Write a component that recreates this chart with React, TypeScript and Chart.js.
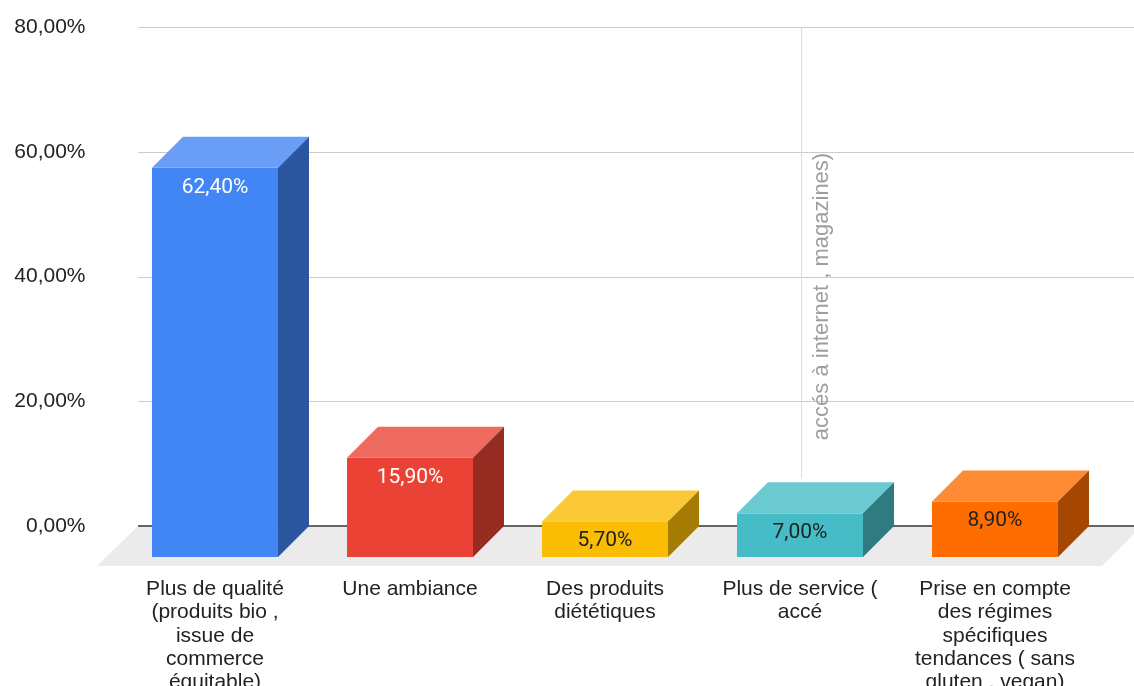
import React, { useEffect, useRef } from "react";
import { Chart, registerables } from "chart.js";

Chart.register(...registerables);

const categories: string[][] = [
  ["Plus de qualité", "(produits bio ,", "issue de", "commerce", "équitable)"],
  ["Une ambiance"],
  ["Des produits", "diététiques"],
  ["Plus de service (", "accé"],
  ["Prise en compte", "des régimes", "spécifiques", "tendances ( sans", "gluten , vegan)"],
];
const values: number[] = [62.4, 15.9, 5.7, 7.0, 8.9];
const yTicks: number[] = [0, 20, 40, 60, 80];
const frontColors = ["#4285F4", "#EA4335", "#FBBC04", "#46BDC6", "#FF6D01"];
const topColors = ["#6A9DF6", "#EE6A5F", "#FBC935", "#6BCAD1", "#FF8A34"];
const sideColors = ["#2A56A0", "#962B22", "#A67C02", "#2E7B81", "#A64701"];
const labelColors = ["#ffffff", "#ffffff", "#222222", "#222222", "#222222"];
const overflowText = "accés à internet , magazines)";

const DEPTH = 31;
const AXIS_FONT = "'Liberation Sans', Arial, sans-serif";
const fmt = (v: number) => v.toFixed(2).replace(".", ",") + "%";

const threeDPlugin = {
  id: "threeD",
  beforeDatasetsDraw(chart: any) {
    const { ctx, chartArea, scales } = chart;
    const ys = scales.y;
    const xs = scales.x;
    const gl = chartArea.left - 10.5;
    const gr = chart.width;
    const y0 = ys.getPixelForValue(0);
    ctx.save();
    // horizontal gridlines
    ctx.strokeStyle = "#cccccc";
    ctx.lineWidth = 1;
    yTicks.forEach((t) => {
      if (t === 0) return;
      const py = Math.round(ys.getPixelForValue(t)) + 0.5;
      ctx.beginPath();
      ctx.moveTo(gl, py);
      ctx.lineTo(gr, py);
      ctx.stroke();
    });
    // stray vertical line
    const vx = Math.round(xs.getPixelForValue(3) - DEPTH + 1) + 0.5;
    ctx.strokeStyle = "#dddddd";
    ctx.beginPath();
    ctx.moveTo(vx, ys.getPixelForValue(yTicks[yTicks.length - 1]));
    ctx.lineTo(vx, ys.getPixelForValue(values[3]) - 4);
    ctx.stroke();
    // floor
    ctx.fillStyle = "#ebebeb";
    ctx.beginPath();
    ctx.moveTo(gl, y0);
    ctx.lineTo(gr + 8, y0);
    ctx.lineTo(gr - 32, y0 + 40);
    ctx.lineTo(gl - 41, y0 + 40);
    ctx.closePath();
    ctx.fill();
    // zero line
    ctx.strokeStyle = "#333333";
    ctx.lineWidth = 1.5;
    ctx.beginPath();
    ctx.moveTo(gl, y0);
    ctx.lineTo(gr, y0);
    ctx.stroke();
    // overflow label text (vertical)
    ctx.translate(xs.getPixelForValue(3) - 3, (ys.getPixelForValue(80) + y0) / 2 + 20);
    ctx.rotate(-Math.PI / 2);
    ctx.fillStyle = "#9e9e9e";
    ctx.font = "22px " + AXIS_FONT;
    ctx.textAlign = "center";
    ctx.textBaseline = "alphabetic";
    ctx.fillText(overflowText, 0, 0);
    ctx.restore();
  },
  afterDatasetsDraw(chart: any) {
    const { ctx } = chart;
    const meta = chart.getDatasetMeta(0);
    ctx.save();
    meta.data.forEach((bar: any, i: number) => {
      const { x, y, base, width } = bar.getProps(["x", "y", "base", "width"], true);
      const D = DEPTH;
      const x0 = x - width / 2 - D;
      const x1 = x + width / 2 - D;
      // front
      ctx.fillStyle = frontColors[i];
      ctx.fillRect(x0, y + D, x1 - x0, base - y);
      // top
      ctx.fillStyle = topColors[i];
      ctx.beginPath();
      ctx.moveTo(x0, y + D);
      ctx.lineTo(x0 + D, y);
      ctx.lineTo(x1 + D, y);
      ctx.lineTo(x1, y + D);
      ctx.closePath();
      ctx.fill();
      // side
      ctx.fillStyle = sideColors[i];
      ctx.beginPath();
      ctx.moveTo(x1, y + D);
      ctx.lineTo(x1 + D, y);
      ctx.lineTo(x1 + D, base);
      ctx.lineTo(x1, base + D);
      ctx.closePath();
      ctx.fill();
      // value label
      ctx.fillStyle = labelColors[i];
      ctx.font = "21px Roboto, 'Liberation Sans', sans-serif";
      ctx.textAlign = "center";
      ctx.textBaseline = "middle";
      ctx.fillText(fmt(values[i]), x - D, y + D + 19.5);
    });
    ctx.restore();
  },
};

export default function App() {
  const canvasRef = useRef<HTMLCanvasElement | null>(null);

  useEffect(() => {
    const canvas = canvasRef.current;
    if (!canvas) return;
    const chart = new Chart(canvas, {
      type: "bar",
      data: {
        labels: categories,
        datasets: [
          {
            data: values,
            backgroundColor: "rgba(0,0,0,0)",
            borderWidth: 0,
            barPercentage: 0.646,
            categoryPercentage: 1,
          },
        ],
      },
      options: {
        responsive: false,
        animation: false,
        devicePixelRatio: 1,
        layout: { padding: { top: 27, right: 10.5, left: 0, bottom: 0 } },
        plugins: {
          legend: { display: false },
          tooltip: { enabled: false },
        },
        scales: {
          x: {
            grid: { display: false, drawTicks: false },
            border: { display: false },
            ticks: {
              autoSkip: false,
              maxRotation: 0,
              minRotation: 0,
              labelOffset: -DEPTH,
              padding: 52,
              color: "#222222",
              font: { family: AXIS_FONT, size: 21, lineHeight: 1.1 },
            },
            afterFit: (s: any) => {
              s.height = 160;
              s.paddingLeft = 0;
              s.paddingRight = 0;
            },
          },
          y: {
            min: 0,
            max: 80,
            grid: { display: false, drawTicks: false },
            border: { display: false },
            ticks: {
              stepSize: 20,
              padding: 63,
              color: "#222222",
              font: { family: AXIS_FONT, size: 21 },
              callback: (v: any) => fmt(Number(v)),
            },
            afterFit: (s: any) => {
              s.width = 148.5;
              s.paddingTop = 0;
              s.paddingBottom = 0;
            },
          },
        },
      },
      plugins: [threeDPlugin],
    });
    return () => chart.destroy();
  }, []);

  return (
    <div style={{ position: "fixed", left: 0, top: 0, width: 1134, height: 686, background: "#fff" }}>
      <canvas ref={canvasRef} width={1134} height={686} />
    </div>
  );
}
